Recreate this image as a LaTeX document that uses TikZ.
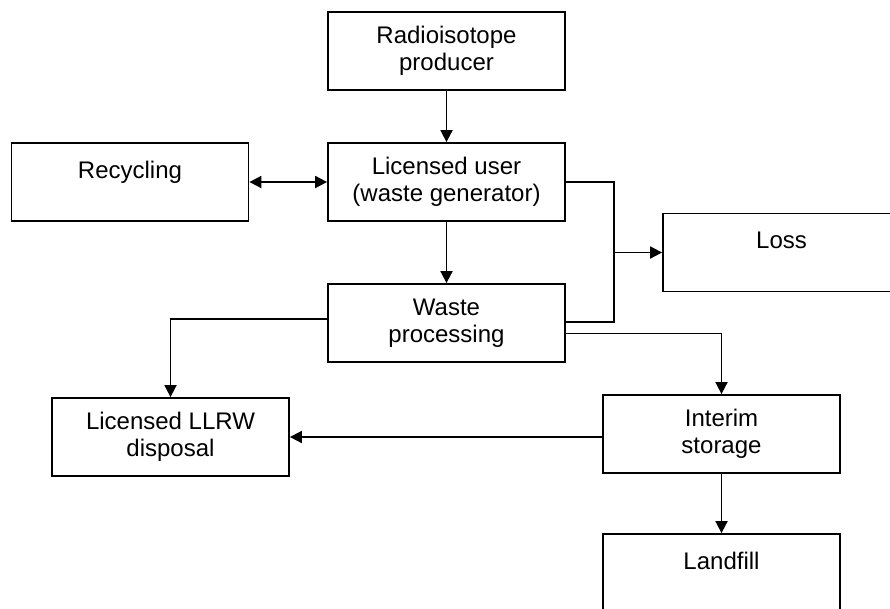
\documentclass[tikz,border=0pt]{standalone}
\usepackage{fontspec}
\setmainfont{Liberation Sans}
\usetikzlibrary{arrows.meta}
\begin{document}
\begin{tikzpicture}[x=1pt,y=-1pt,
  box/.style={draw,line width=1.8pt,minimum width=237pt,minimum height=78pt,inner sep=0pt,align=center,font=\fontsize{24}{27}\selectfont},
  conn/.style={line width=1.8pt},
  arr/.style={line width=1.8pt,-{Triangle[length=12pt,width=12pt]}}]
\useasboundingbox (0,0) rectangle (890,608);
\node[box] (prod) at (446.5,51) {Radioisotope\\producer};
\node[box] (user) at (446.5,182) {Licensed user\\(waste generator)};
\node[box] (recyc) at (130,182) {Recycling\\[-10pt]\strut};
\node[box] (loss) at (781.5,252.5) {Loss\\[-10pt]\strut};
\node[box] (proc) at (446.5,323) {Waste\\processing};
\node[box] (llrw) at (170.5,437) {Licensed LLRW\\disposal};
\node[box] (interim) at (721.5,434) {Interim\\storage};
\node[box] (landfill) at (721.5,573) {Landfill\\[-10pt]\strut};
\coordinate (j) at (614,252.5);
\draw[arr] (prod) -- (user);
\draw[conn,{Triangle[length=12pt,width=12pt]}-{Triangle[length=12pt,width=12pt]}] (recyc) -- (user);
\draw[arr] (user) -- (proc);
\draw[conn] (user.east) -| (j) |- ([yshift=1pt]proc.east);
\draw[arr] (j) -- (loss.west);
\draw[arr] ([yshift=4pt]proc.west) -| (llrw.north);
\draw[arr] ([yshift=-10.5pt]proc.east) -| (interim.north);
\draw[arr] (interim.west |- llrw) -- (llrw.east);
\draw[arr] (interim) -- (landfill);
\end{tikzpicture}
\end{document}
